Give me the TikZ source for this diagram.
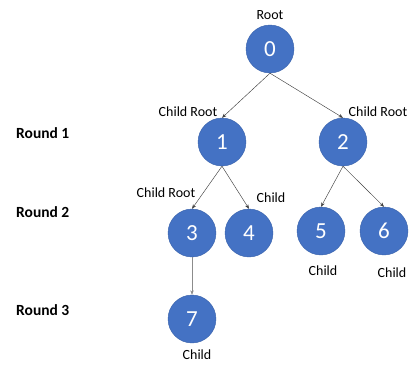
\documentclass[tikz,border=0pt]{standalone}
\usepackage{fontspec}
\setmainfont{Carlito}
\usetikzlibrary{arrows.meta}
\definecolor{nodeblue}{HTML}{4472C4}
\definecolor{nodeedge}{HTML}{3A62AA}
\begin{document}
\begin{tikzpicture}[x=1pt,y=-1pt,
  tnode/.style={circle,fill=nodeblue,draw=nodeedge,line width=0.4pt,minimum size=48pt,inner sep=0pt,text=white,font=\fontsize{23}{23}\selectfont},
  lbl/.style={font=\fontsize{14}{14}\selectfont,inner sep=0pt},
  rnd/.style={font=\bfseries\fontsize{15.5}{15.5}\selectfont,inner sep=0pt,anchor=west},
  conn/.style={draw=black!75,line width=0.45pt,-{Stealth[length=4.5pt,width=3.5pt]}}]
\useasboundingbox (0,0) rectangle (413,365);
\node[tnode] (n0) at (270,49) {0};
\node[tnode] (n1) at (222,142) {1};
\node[tnode] (n2) at (343,142) {2};
\node[tnode] (n3) at (192,233) {3};
\node[tnode] (n4) at (249,233) {4};
\node[tnode] (n5) at (321,231) {5};
\node[tnode] (n6) at (384,231) {6};
\node[tnode] (n7) at (192,319) {7};
\draw[conn] (n0.south) -- (n1.north);
\draw[conn] (n0.south) -- (n2.north);
\draw[conn] (n1.south) -- (n3.north);
\draw[conn] (n1.south) -- (n4.north);
\draw[conn] (n2.south) -- (n5.north);
\draw[conn] (n2.south) -- (n6.north);
\draw[conn,draw=black!45] (n3.south) -- (n7.north);
\node[lbl] (l0) at (270,15) {Root};
\node[lbl] (l1) at (188,112) {Child Root};
\node[lbl] (l2) at (378,112) {Child Root};
\node[lbl] (l3) at (166,193) {Child Root};
\node[lbl] (l4) at (271,198) {Child};
\node[lbl] (l5) at (323,271) {Child};
\node[lbl] (l6) at (392,273) {Child};
\node[lbl] (l7) at (197,355) {Child};
\node[rnd] (r1) at (16,133) {Round 1};
\node[rnd] (r2) at (16,212) {Round 2};
\node[rnd] (r3) at (16,310) {Round 3};
\end{tikzpicture}
\end{document}
